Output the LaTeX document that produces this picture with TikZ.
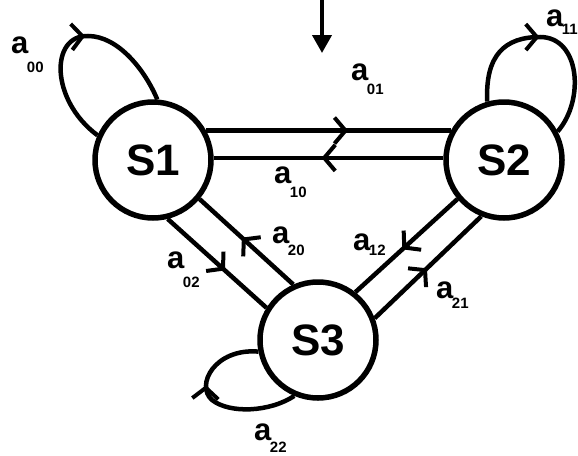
\documentclass[tikz,border=0pt]{standalone}
\usepackage{fontspec}
\setmainfont{Liberation Sans}
\usetikzlibrary{arrows.meta,decorations.markings}
\newcommand\lbl[2]{\fontsize{31}{31}\selectfont\bfseries a\kern-1.5pt\raisebox{-#2pt}{\fontsize{15}{15}\selectfont\bfseries #1}}
\begin{document}
\begin{tikzpicture}[x=1pt,y=-1pt,
  state/.style={circle,draw,line width=5.5pt,minimum size=116pt,inner sep=0pt,font=\fontsize{44}{44}\selectfont\bfseries},
  edge/.style={line width=4.5pt},
  midarrow/.style={postaction={decorate,decoration={markings,mark=at position #1 with {\arrow[line width=4pt]{Straight Barb[length=11pt,width=26pt]}}}}},
  lab/.style={anchor=base west,inner sep=0pt}]
\useasboundingbox (0,0) rectangle (578,455);

\node[state] (S1) at (153,160) {S1};
\node[state] (S2) at (504,160) {S2};
\node[state] (S3) at (318,340) {S3};

% initial arrow
\coordinate (top) at (322,0);
\coordinate (topend) at (322,53);
\draw[line width=4pt,-{Triangle[length=18pt,width=19pt]}] (top) -- (topend);

% S1 <-> S2
\draw[edge,midarrow=0.58] (S1.29) -- (S2.151);
\draw[edge,midarrow=0.53] (S2.178) -- (S1.2);
% S1 <-> S3
\draw[edge,midarrow=0.58] (S1.-76) -- (S3.148);
\draw[edge,midarrow=0.55] (S3.114) -- (S1.-40);
% S2 <-> S3
\draw[edge,midarrow=0.54] (S2.220) -- (S3.52);
\draw[edge,midarrow=0.49] (S3.21) -- (S2.248);

% self loops
\draw[edge,midarrow=0.55] (S1.156) .. controls (50,100) and (50,35) .. (88,36) .. controls (118,36) and (145,70) .. (S1.86);
\draw[edge,midarrow=0.45] (S2.106) .. controls (485,55) and (505,37) .. (540,37) .. controls (580,37) and (585,100) .. (S2.28);
\draw[edge,midarrow=0.6] (S3.247) .. controls (270,412) and (230,414) .. (212,400) .. controls (195,385) and (215,348) .. (S3.191);

% labels
\node[lab] (l00) at (11,53) {\lbl{00}{19}};
\node[lab] (l01) at (351,80) {\lbl{01}{14}};
\node[lab] (l10) at (274,183) {\lbl{10}{14}};
\node[lab] (l11) at (546,27) {\lbl{11}{7}};
\node[lab] (l20) at (272,243) {\lbl{20}{12}};
\node[lab] (l02) at (167,268) {\lbl{02}{19}};
\node[lab] (l12) at (353,250) {\lbl{12}{5}};
\node[lab] (l21) at (436,298) {\lbl{21}{10}};
\node[lab] (l22) at (254,440) {\lbl{22}{12}};
\end{tikzpicture}
\end{document}
